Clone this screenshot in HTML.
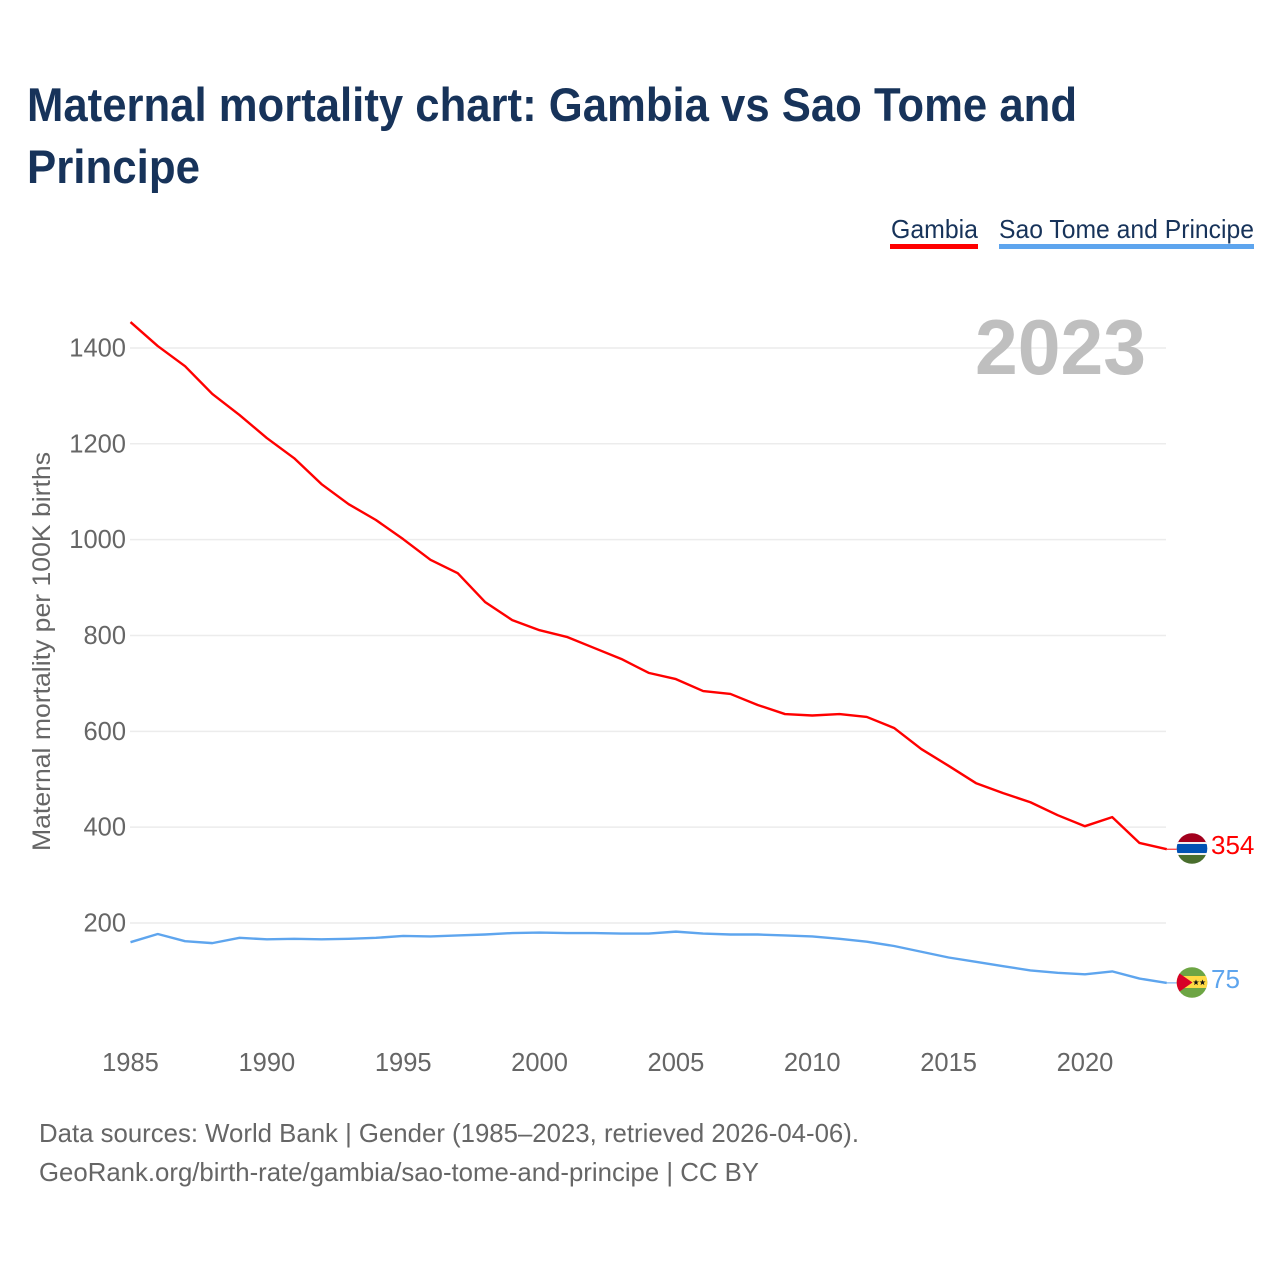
<!DOCTYPE html>
<html lang="en">
<head>
<meta charset="utf-8">
<title>Maternal mortality chart: Gambia vs Sao Tome and Principe</title>
<style>
html,body{margin:0;padding:0;background:#fff;width:1280px;height:1280px;overflow:hidden}
svg{display:block;font-family:"Liberation Sans",sans-serif}
</style>
</head>
<body>
<svg id="chart" width="1280" height="1280" viewBox="0 0 1280 1280" xmlns="http://www.w3.org/2000/svg">
  <rect x="0" y="0" width="1280" height="1280" fill="#fff"/>
  <text x="27" y="121" font-size="47" font-weight="700" fill="#17335a" textLength="1050" lengthAdjust="spacingAndGlyphs">Maternal mortality chart: Gambia vs Sao Tome and</text>
  <text x="27" y="183" font-size="47" font-weight="700" fill="#17335a" textLength="173" lengthAdjust="spacingAndGlyphs">Principe</text>

  <g>
    <g>
      <text x="891" y="238" font-size="26" fill="#17335a" textLength="87" lengthAdjust="spacingAndGlyphs">Gambia</text>
      <rect x="890" y="244" width="88" height="5" fill="#ff0000"/>
    </g>
    <g>
      <text x="999" y="238" font-size="26" fill="#17335a" textLength="255" lengthAdjust="spacingAndGlyphs">Sao Tome and Principe</text>
      <rect x="999" y="244" width="255" height="5" fill="#5ea5ee"/>
    </g>
  </g>

  <g id="grid"></g>
  <g id="yticks"></g>
  <g id="xticks"></g>

  <text x="975" y="374" font-size="78" font-weight="700" fill="#bfbfbf" textLength="171" lengthAdjust="spacingAndGlyphs">2023</text>

  <text transform="translate(50,851) rotate(-90)" x="0" y="0" font-size="25" fill="#666666" textLength="399" lengthAdjust="spacingAndGlyphs">Maternal mortality per 100K births</text>

  <g id="series"></g>

  <defs>
    <clipPath id="clip-gambia"><circle cx="1192" cy="848.5" r="15.3"/></clipPath>
    <clipPath id="clip-stp"><circle cx="1192" cy="982.5" r="15.3"/></clipPath>
  </defs>

  <g clip-path="url(#clip-gambia)">
    <rect x="1176" y="833" width="32" height="10" fill="#a2001d"/>
    <rect x="1176" y="842" width="32" height="13" fill="#f0f0f0"/>
    <rect x="1176" y="844" width="32" height="9" fill="#0052b4"/>
    <rect x="1176" y="855" width="32" height="10" fill="#496e2d"/>
  </g>
  <g clip-path="url(#clip-stp)">
    <rect x="1176" y="967" width="32" height="31" fill="#6da544"/>
    <rect x="1176" y="976" width="32" height="12" fill="#ffda44"/>
    <polygon points="1176,971 1192.5,982.5 1176,994" fill="#d80027"/>
    <polygon transform="translate(1196,982.5)" points="0,-3 .8,-1 3,-1 1.2,.3 1.9,2.6 0,1.2 -1.9,2.6 -1.2,.3 -3,-1 -.8,-1" fill="#111"/>
    <polygon transform="translate(1202.5,982.5)" points="0,-3 .8,-1 3,-1 1.2,.3 1.9,2.6 0,1.2 -1.9,2.6 -1.2,.3 -3,-1 -.8,-1" fill="#111"/>
  </g>

  <text id="label-gambia" x="1211" y="854" font-size="26" fill="#ff0000">354</text>
  <text id="label-stp" x="1211" y="988" font-size="26" fill="#5ea5ee">75</text>

  <text x="39" y="1142" font-size="26" fill="#666666" textLength="820" lengthAdjust="spacingAndGlyphs">Data sources: World Bank | Gender (1985–2023, retrieved 2026-04-06).</text>
  <text x="39" y="1181" font-size="26" fill="#666666" textLength="720" lengthAdjust="spacingAndGlyphs">GeoRank.org/birth-rate/gambia/sao-tome-and-principe | CC BY</text>
</svg>
<script>
const years = [1985,1986,1987,1988,1989,1990,1991,1992,1993,1994,1995,1996,1997,1998,1999,2000,2001,2002,2003,2004,2005,2006,2007,2008,2009,2010,2011,2012,2013,2014,2015,2016,2017,2018,2019,2020,2021,2022,2023];
const gambia = [1454,1404,1362,1304,1260,1212,1170,1116,1074,1041,1001,958,930,870,832,811,797,774,751,722,709,684,678,655,636,633,636,630,607,563,528,492,471,452,425,402,421,367,354];
const saoTome = [160,177,162,158,169,166,167,166,167,169,173,172,174,176,179,180,179,179,178,178,182,178,176,176,174,172,167,161,152,140,128,119,110,101,96,93,99,84,75];
const yTickValues = [200,400,600,800,1000,1200,1400];
const xTickValues = [1985,1990,1995,2000,2005,2010,2015,2020];

const NS = 'http://www.w3.org/2000/svg';
function xScale(year){ return 130.5 + (year - 1985) * 27.27; }
function yScale(v){ return 923 - (v - 200) * 0.4792; }

const gridG = document.getElementById('grid');
const yG = document.getElementById('yticks');
const xG = document.getElementById('xticks');
const seriesG = document.getElementById('series');

yTickValues.forEach(function(v){
  const line = document.createElementNS(NS,'line');
  
  
  line.setAttribute('x1', 130);
  line.setAttribute('x2', 1166);
  line.setAttribute('y1', yScale(v));
  line.setAttribute('y2', yScale(v));
  line.setAttribute('stroke', '#ececec');
  line.setAttribute('stroke-width', '1.5');
  gridG.appendChild(line);

  const t = document.createElementNS(NS,'text');
  
  
  t.setAttribute('x', 126);
  t.setAttribute('y', yScale(v) + 8.5);
  t.setAttribute('text-anchor', 'end');
  t.setAttribute('font-size', '25.5');
  t.setAttribute('fill', '#666666');
  t.textContent = v;
  yG.appendChild(t);
});

xTickValues.forEach(function(y){
  const t = document.createElementNS(NS,'text');
  
  
  t.setAttribute('x', xScale(y));
  t.setAttribute('y', 1071);
  t.setAttribute('text-anchor', 'middle');
  t.setAttribute('font-size', '25.5');
  t.setAttribute('fill', '#666666');
  t.textContent = y;
  xG.appendChild(t);
});

function pathFor(values){
  return values.map(function(v,i){
    return (i ? 'L' : 'M') + xScale(years[i]).toFixed(2) + ' ' + yScale(v).toFixed(2);
  }).join(' ');
}

const gambiaLine = document.createElementNS(NS,'path');


gambiaLine.setAttribute('d', pathFor(gambia));
gambiaLine.setAttribute('fill', 'none');
gambiaLine.setAttribute('stroke', '#ff0000');
gambiaLine.setAttribute('stroke-width', '2.4');
gambiaLine.setAttribute('stroke-linejoin', 'round');
seriesG.appendChild(gambiaLine);

const saoLine = document.createElementNS(NS,'path');


saoLine.setAttribute('d', pathFor(saoTome));
saoLine.setAttribute('fill', 'none');
saoLine.setAttribute('stroke', '#5ea5ee');
saoLine.setAttribute('stroke-width', '2.4');
saoLine.setAttribute('stroke-linejoin', 'round');
seriesG.appendChild(saoLine);

const gambiaConnector = document.createElementNS(NS,'line');


gambiaConnector.setAttribute('x1', xScale(2023));
gambiaConnector.setAttribute('x2', 1178);
gambiaConnector.setAttribute('y1', yScale(gambia[gambia.length-1]));
gambiaConnector.setAttribute('y2', yScale(gambia[gambia.length-1]));
gambiaConnector.setAttribute('stroke', '#ff0000');
gambiaConnector.setAttribute('stroke-width', '1');
seriesG.appendChild(gambiaConnector);

const saoConnector = document.createElementNS(NS,'line');


saoConnector.setAttribute('x1', xScale(2023));
saoConnector.setAttribute('x2', 1178);
saoConnector.setAttribute('y1', yScale(saoTome[saoTome.length-1]));
saoConnector.setAttribute('y2', yScale(saoTome[saoTome.length-1]));
saoConnector.setAttribute('stroke', '#5ea5ee');
saoConnector.setAttribute('stroke-width', '1');
seriesG.appendChild(saoConnector);

document.getElementById('label-gambia').textContent = gambia[gambia.length-1];
document.getElementById('label-stp').textContent = saoTome[saoTome.length-1];
</script>
</body>
</html>
